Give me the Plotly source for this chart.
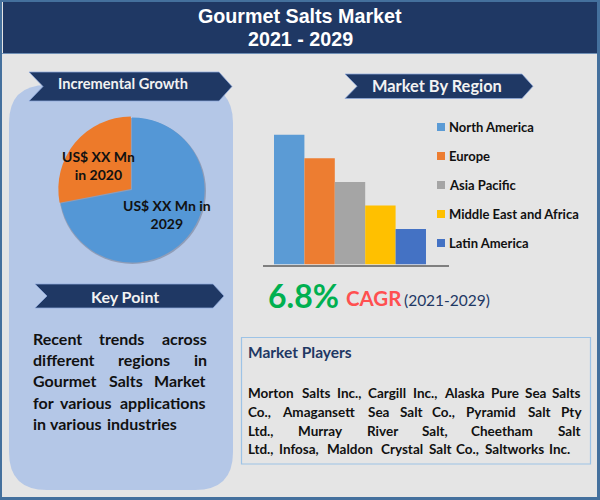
import plotly.graph_objects as go

TITLE_LINES = ["Gourmet Salts Market", "2021 - 2029"]
REGIONS = ["North America", "Europe", "Asia Pacific", "Middle East and Africa", "Latin America"]
REGION_VALUES = [5.5, 4.5, 3.5, 2.5, 1.5]
REGION_COLORS = ["#5b9bd5", "#ed7d31", "#a5a5a5", "#ffc000", "#4472c4"]
PIE_LABELS = ["US$ XX Mn in 2029", "US$ XX Mn in 2020"]
PIE_VALUES = [72, 28]
PIE_COLORS = ["#5497d6", "#ed7a2a"]

W, H = 600, 500
NAVY = "#1f3864"
SANS = "Lato"


def px(x):
    return x / W


def py(y):
    return 1 - y / H


def poly(points, fill, line=None, width=0):
    path = "M" + " L".join(f"{px(x):.5f},{py(y):.5f}" for x, y in points) + " Z"
    return dict(type="path", xref="paper", yref="paper", path=path, fillcolor=fill,
                line=dict(color=line or fill, width=width), layer="below")


def rect(x0, y0, x1, y1, fill, line=None, width=0):
    return dict(type="rect", xref="paper", yref="paper", x0=px(x0), x1=px(x1), y0=py(y0), y1=py(y1),
                fillcolor=fill, line=dict(color=line or fill, width=width), layer="below")


def rounded(x0, y0, x1, y1, r, fill):
    def p(x, y):
        return f"{px(x):.5f},{py(y):.5f}"
    path = (f"M{p(x0 + r, y0)} L{p(x1 - r, y0)} Q{p(x1, y0)} {p(x1, y0 + r)} L{p(x1, y1 - r)} "
            f"Q{p(x1, y1)} {p(x1 - r, y1)} L{p(x0 + r, y1)} Q{p(x0, y1)} {p(x0, y1 - r)} "
            f"L{p(x0, y0 + r)} Q{p(x0, y0)} {p(x0 + r, y0)} Z")
    return dict(type="path", xref="paper", yref="paper", path=path, fillcolor=fill,
                line=dict(color=fill, width=0), layer="below")


def banner(x0, notch, inner, tip, top, bottom):
    mid = (top + bottom) / 2
    return poly([(x0, top), (inner, top), (tip, mid), (inner, bottom), (x0, bottom), (notch, mid)],
                NAVY, "#8faadc", 0.75)


def txt(x, y, s, size, color="#111111", anchor="left", bold=True, family=SANS):
    dx = -2.5 if anchor == "left" else 0
    return dict(x=px(x + dx), y=py(y), xref="paper", yref="paper", text=f"<b>{s}</b>" if bold else s,
                showarrow=False, xanchor=anchor, yanchor="middle", align="center",
                font=dict(family=family, size=size, color=color))


shapes = [
    rect(0, 0, 600, 500, "#44709d"),
    rect(2, 2, 597, 497, "#e5e5e5"),
    rect(3, 2, 597, 53, NAVY),
    rect(2, 53, 597, 54, "#6f8fb5"),
    rounded(9, 85, 233, 490, 38, "#b4c7e7"),
    banner(29, 43, 219, 232, 72, 101),
    banner(345, 357, 522, 533, 74, 98.5),
    banner(35, 47, 213, 224, 284, 308),
    rect(241.5, 337.5, 590.5, 464, "rgba(0,0,0,0)", "#9dc3e6", 1.2),
    dict(type="circle", xref="paper", yref="paper", x0=px(59), x1=px(206), y0=py(264), y1=py(118),
         fillcolor="#8f9db8", line=dict(width=0), layer="below"),
]

ann = [
    txt(300, 16, TITLE_LINES[0], 19.7, "white", "center", family="Liberation Sans"),
    txt(300, 39, TITLE_LINES[1], 19.7, "white", "center", family="Liberation Sans"),
    txt(122.5, 83, "Incremental Growth", 14.6, "#f2f2f2", "center"),
    txt(436.5, 86, "Market By Region", 16.4, "#f2f2f2", "center"),
    txt(125, 296, "Key Point", 16, "#f2f2f2", "center"),
    txt(98, 165, "US$ XX Mn<br>in 2020", 14, "#111111", "center"),
    txt(167, 215, "US$ XX Mn in<br>2029", 14, "#111111", "center"),
    txt(268, 295, "6.8%", 32, "#00b050"),
    txt(346, 298, "CAGR", 20.5, "#ff5050"),
    txt(405, 300, "(2021-2029)", 15.5, NAVY, bold=False),
    txt(248, 352, "Market Players", 15.5, NAVY),
]

KEY_POINT = [
    (338, [("Recent", 33), ("trends", 99), ("across", 162)]),
    (359, [("different", 33), ("regions", 118), ("in", 194)]),
    (380, [("Gourmet", 33), ("Salts", 109), ("Market", 154)]),
    (402, [("for", 33), ("various", 60), ("applications", 120)]),
    (423, [("in", 33), ("various", 50), ("industries", 107)]),
]
PLAYERS = [
    (393, [("Morton", 248), ("Salts", 302), ("Inc.,", 337), ("Cargill", 368), ("Inc.,", 413), ("Alaska", 444),
           ("Pure", 491), ("Sea", 525), ("Salts", 552)]),
    (412, [("Co.,", 248), ("Amagansett", 282), ("Sea", 368), ("Salt", 400), ("Co.,", 432), ("Pyramid", 466),
           ("Salt", 528), ("Pty", 561)]),
    (431, [("Ltd.,", 248), ("Murray", 298), ("River", 367), ("Salt,", 422), ("Cheetham", 471), ("Salt", 558)]),
    (449, [("Ltd.,", 248), ("Infosa,", 279), ("Maldon", 327), ("Crystal", 381), ("Salt", 429), ("Co.,", 457),
           ("Saltworks", 485), ("Inc.", 549)]),
]
for y, words in KEY_POINT:
    ann += [txt(x, y, w, 16) for w, x in words]
for y, words in PLAYERS:
    ann += [txt(x, y, w, 13.5) for w, x in words]

LEGEND_ROWS = [127, 156, 185, 214, 243]
for row, name, color in zip(LEGEND_ROWS, REGIONS, REGION_COLORS):
    shapes.append(rect(437, row - 4, 445, row + 4, color))
    ann.append(txt(449, row, name, 13))

fig = go.Figure()
fig.add_trace(go.Pie(labels=PIE_LABELS, values=PIE_VALUES, sort=False, direction="clockwise", rotation=0,
                     marker=dict(colors=PIE_COLORS, line=dict(width=0)), pull=[0, 0.02], textinfo="none",
                     hoverinfo="label", showlegend=False,
                     domain=dict(x=[px(58), px(206)], y=[py(264), py(116)])))
for name, value, color in zip(REGIONS, REGION_VALUES, REGION_COLORS):
    fig.add_trace(go.Bar(x=[name], y=[value], name=name, width=1, marker=dict(color=color, line=dict(width=0)),
                         showlegend=False))

fig.update_layout(
    width=W, height=H, autosize=False, margin=dict(l=0, r=0, t=0, b=0),
    paper_bgcolor="#e5e5e5", plot_bgcolor="rgba(0,0,0,0)", barmode="overlay",
    shapes=shapes, annotations=ann,
    xaxis=dict(domain=[px(263), px(449)], range=[-0.862, 5.257], categoryorder="array", categoryarray=REGIONS,
               showticklabels=False, ticks="", showgrid=False, zeroline=False, showline=True,
               linecolor="#7f7f7f", linewidth=1.5, anchor="y"),
    yaxis=dict(domain=[py(264.5), py(125)], range=[0, 5.91], visible=False, anchor="x"),
    showlegend=False,
)
fig.write_html("out.html", config=dict(displayModeBar=False),
               post_script="document.body.style.margin='0';document.documentElement.style.overflow='hidden';")
